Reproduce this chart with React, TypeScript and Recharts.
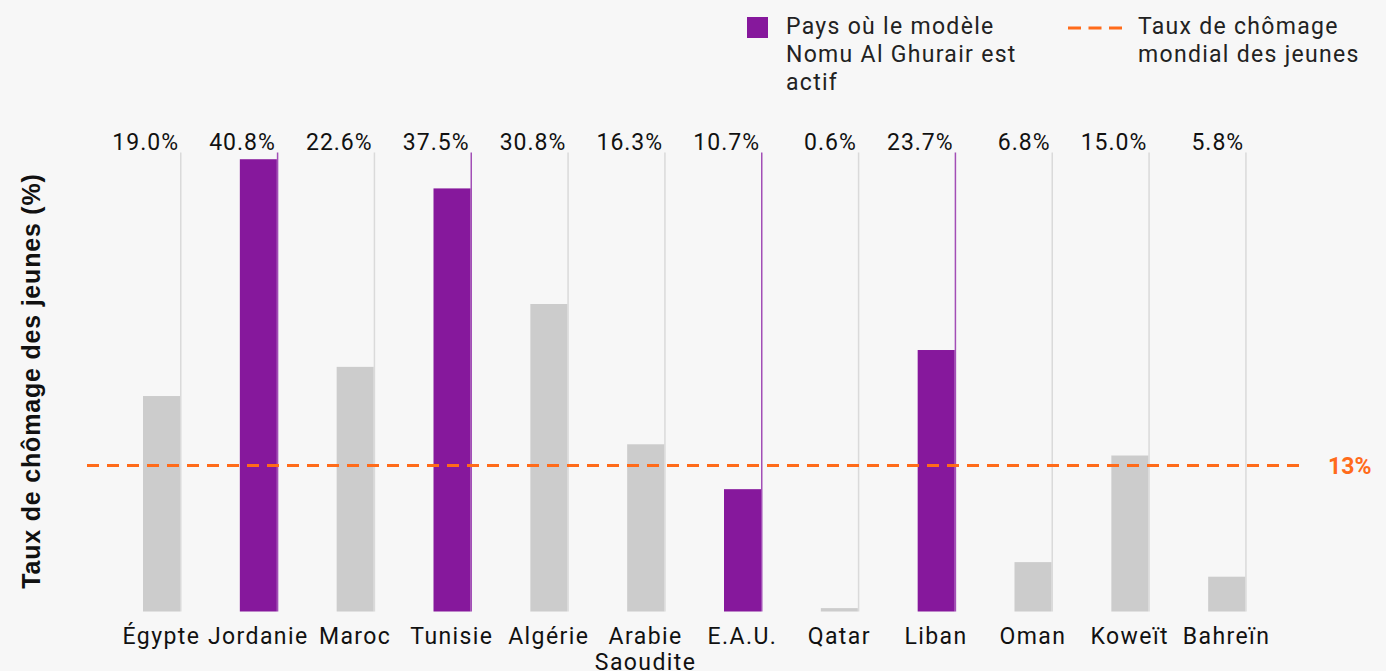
import * as React from 'react'
import { Bar, BarChart, Cell, ReferenceLine, XAxis, YAxis } from 'recharts'

const countries = [
	'Égypte',
	'Jordanie',
	'Maroc',
	'Tunisie',
	'Algérie',
	'Arabie Saoudite',
	'E.A.U.',
	'Qatar',
	'Liban',
	'Oman',
	'Koweït',
	'Bahreïn',
]
// bar heights as drawn in the picture (%)
const barHeights = [19.2, 40.3, 21.8, 37.7, 27.4, 14.9, 10.9, 0.3, 23.3, 4.4, 13.9, 3.1]
// printed labels above each column
const rateLabels = ['19.0%', '40.8%', '22.6%', '37.5%', '30.8%', '16.3%', '10.7%', '0.6%', '23.7%', '6.8%', '15.0%', '5.8%']
const nomuActive = [false, true, false, true, false, false, true, false, true, false, false, false]
const worldRate = 13
const worldRateLabel = '13%'

const PURPLE = '#86189c'
const PURPLE_LINE = '#a24fb6'
const GRAY = '#cccccc'
const GRAY_LINE = '#dadada'
const ORANGE = '#ff6b1a'
const FONT = 'Roboto, "Noto Sans", sans-serif'

const W = 1386
const H = 671
const TOP = 152.5
const BOTTOM = 611.5

const data = countries.map((name, i) => ({
	name,
	value: barHeights[i],
	label: rateLabels[i],
	active: nomuActive[i],
}))

const ColumnShape = (props: any) => {
	const { x, y, width, height, payload } = props
	const col = payload.active ? PURPLE : GRAY
	const lineCol = payload.active ? PURPLE_LINE : GRAY_LINE
	const lx = x + width + 0.75
	return (
		<g>
			<line x1={lx} x2={lx} y1={TOP} y2={BOTTOM} stroke={lineCol} strokeWidth={1.5} />
			<rect x={x} y={y} width={width} height={height} fill={col} />
			<text
				x={x + width - 1}
				y={TOP - 3}
				textAnchor="end"
				fontFamily={FONT}
				fontSize={23}
				letterSpacing={1}
				fill="#111"
			>
				{payload.label}
			</text>
		</g>
	)
}

const CountryTick = (props: any) => {
	const { x, y, payload } = props
	const words: string[] = payload.value.length > 10 ? payload.value.split(' ') : [payload.value]
	return (
		<text x={x} y={y} textAnchor="middle" fontFamily={FONT} fontSize={23} letterSpacing={1.4} fill="#111">
			{words.map((w, i) => (
				<tspan key={i} x={x} dy={i === 0 ? 24 : 26}>
					{w}
				</tspan>
			))}
		</text>
	)
}

const WorldLine = (props: any) => {
	const { x1, x2, y1 } = props
	return (
		<g>
			<line
				x1={x1 - 26}
				x2={x2 + 30}
				y1={y1}
				y2={y1}
				stroke={ORANGE}
				strokeWidth={3}
				strokeDasharray="12 8"
			/>
			<text
				x={x2 + 53}
				y={y1 + 8}
				fontFamily={FONT}
				fontWeight="bold"
				fontSize={23}
				fill={ORANGE}
			>
				{worldRateLabel}
			</text>
		</g>
	)
}

const Legend = () => (
	<div style={{ position: 'absolute', top: 0, left: 0, fontFamily: FONT, fontSize: 23, color: '#222', letterSpacing: 1.3 }}>
		<div style={{ position: 'absolute', left: 747, top: 17, width: 21, height: 21, background: PURPLE }} />
		<div style={{ position: 'absolute', left: 786, top: 13, width: 280, lineHeight: '28px' }}>
			Pays où le modèle
			<br />
			Nomu Al Ghurair est
			<br />
			actif
		</div>
		<svg style={{ position: 'absolute', left: 1066, top: 24 }} width={60} height={8}>
			<line x1={2} x2={58} y1={4} y2={4} stroke={ORANGE} strokeWidth={3} strokeDasharray="13 7.5" />
		</svg>
		<div style={{ position: 'absolute', left: 1138, top: 13, width: 260, lineHeight: '28px' }}>
			Taux de chômage
			<br />
			mondial des jeunes
		</div>
	</div>
)

export default function App() {
	return (
		<div style={{ position: 'absolute', left: 0, top: 0, width: W, height: H, background: '#f7f7f7', overflow: 'hidden' }}>
			<Legend />
			<div
				style={{
					position: 'absolute',
					left: 31,
					top: 381,
					transform: 'translate(-50%, -50%) rotate(-90deg)',
					whiteSpace: 'nowrap',
					fontFamily: '"Liberation Sans", Arial, sans-serif',
					fontWeight: 'bold',
					fontSize: 25,
					letterSpacing: 0.8,
					color: '#111',
				}}
			>
				Taux de chômage des jeunes (%)
			</div>
			<div style={{ position: 'absolute', left: 0, top: 0 }}>
				<BarChart
					width={W}
					height={H}
					data={data}
					margin={{ top: TOP, right: 111, bottom: 0, left: 113 }}
					barSize={37}
				>
					<XAxis
						dataKey="name"
						axisLine={false}
						tickLine={false}
						height={H - BOTTOM}
						interval={0}
						tick={<CountryTick />}
					/>
					<YAxis hide domain={[0, 40.9]} />
					<Bar dataKey="value" shape={<ColumnShape />} isAnimationActive={false}>
						{data.map((d, i) => (
							<Cell key={i} fill={d.active ? PURPLE : GRAY} />
						))}
					</Bar>
					<ReferenceLine y={worldRate} shape={<WorldLine />} ifOverflow="visible" />
				</BarChart>
			</div>
		</div>
	)
}
